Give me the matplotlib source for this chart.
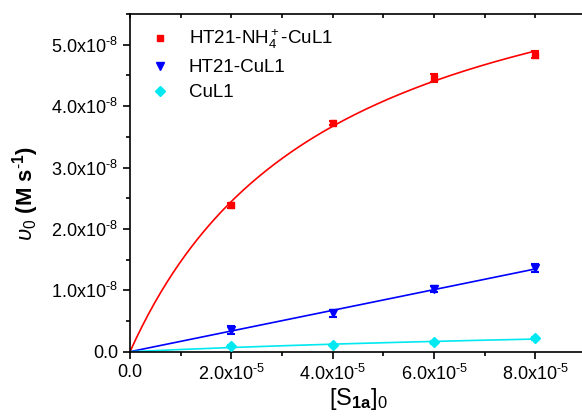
import numpy as np
import matplotlib
matplotlib.use("Agg")
import matplotlib.pyplot as plt
from matplotlib.lines import Line2D
from matplotlib.ticker import MultipleLocator, FuncFormatter, NullFormatter

plt.rcParams['font.family'] = ['Liberation Sans', 'DejaVu Sans']
plt.rcParams['mathtext.fontset'] = 'custom'
plt.rcParams['mathtext.rm'] = 'Liberation Sans'
plt.rcParams['mathtext.it'] = 'Liberation Sans:italic'
plt.rcParams['mathtext.bf'] = 'Liberation Sans:bold'

# Substrate concentration (M)
conc = [2.0e-5, 4.0e-5, 6.0e-5, 8.0e-5]

# Initial rates (M s^-1) and their errors
rate_nh4 = [2.385e-8, 3.73e-8, 4.455e-8, 4.84e-8]
err_nh4 = [0.04e-8, 0.03e-8, 0.06e-8, 0.05e-8]
rate_ht21 = [0.353e-8, 0.624e-8, 1.015e-8, 1.366e-8]
err_ht21 = [0.07e-8, 0.06e-8, 0.05e-8, 0.07e-8]
rate_cul1 = [0.093e-8, 0.109e-8, 0.153e-8, 0.218e-8]
err_cul1 = [0.02e-8, 0.02e-8, 0.02e-8, 0.02e-8]

labels = [r'HT21-NH$_4^+$-CuL1', 'HT21-CuL1', 'CuL1']
colors = ['#ff0000', '#0000ff', '#00e8f0']
markers = ['s', 'v', 'D']
msizes = [4.8, 5.5, 5.5]


def mm_fit(x, y):
    """Least-squares Michaelis-Menten fit v = Vmax*S/(Km+S)."""
    x = np.asarray(x)
    y = np.asarray(y)
    best = None
    for km in np.logspace(-7, -1, 4000):
        f = x / (km + x)
        vmax = np.sum(f * y) / np.sum(f * f)
        sse = np.sum((vmax * f - y) ** 2)
        if best is None or sse < best[0]:
            best = (sse, vmax, km)
    return best[1], best[2]


fig = plt.figure(figsize=(5.82, 4.2), dpi=100)
rect = [130 / 582, 1 - 351.7 / 420, 456 / 582, 337.7 / 420]
ax = fig.add_axes(rect)

s_fit = np.linspace(0, 8.0e-5, 200)
series = [(rate_nh4, err_nh4), (rate_ht21, err_ht21), (rate_cul1, err_cul1)]
for (y, e), c, m, ms in zip(series, colors, markers, msizes):
    vmax, km = mm_fit(conc, y)
    ax.plot(s_fit, vmax * s_fit / (km + s_fit), color=c, lw=1.2, zorder=2)
    ax.errorbar(conc, y, yerr=e, fmt=m, color=c, ms=ms, capsize=3,
                elinewidth=1.5, capthick=1.5, zorder=3, clip_on=False)

ax.set_xlim(0, 9.0e-5)
ax.set_ylim(0, 5.5e-8)

ax.xaxis.set_major_locator(MultipleLocator(2.0e-5))
ax.xaxis.set_minor_locator(MultipleLocator(1.0e-5))
ax.yaxis.set_major_locator(MultipleLocator(1.0e-8))
ax.yaxis.set_minor_locator(MultipleLocator(0.5e-8))


def sci_fmt(exp):
    def f(v, pos):
        if abs(v) < 1e-20:
            return '0.0'
        return r'%.1fx10$^{\text{-}%d}$' % (v / 10 ** exp, -exp)
    return f


ax.xaxis.set_major_formatter(FuncFormatter(sci_fmt(-5)))
ax.yaxis.set_major_formatter(FuncFormatter(sci_fmt(-8)))

for sp in ax.spines.values():
    sp.set_linewidth(1.2)
ax.spines['top'].set_visible(False)
ax.tick_params(which='both', direction='out', width=1.2, labelsize=13,
               top=False, right=False)
ax.tick_params(which='major', length=5)
ax.tick_params(which='minor', length=3)

# top axis with inward ticks, no labels
top = ax.twiny()
top.set_xlim(ax.get_xlim())
top.xaxis.set_major_locator(MultipleLocator(2.0e-5))
top.xaxis.set_minor_locator(MultipleLocator(1.0e-5))
top.xaxis.set_major_formatter(NullFormatter())
top.tick_params(which='both', direction='in', width=1.2, length=3)
for sp in top.spines.values():
    sp.set_linewidth(1.2)
top.spines['bottom'].set_visible(False)
top.spines['left'].set_visible(False)

ax.set_xlabel(r'[S$_{\mathbf{1a}}$]$_0$', fontsize=17, labelpad=2)
ax.set_ylabel(r'$\upsilon_0$ $\mathbf{(M\ s^{\text{-}1})}$', fontsize=16)
ax.yaxis.set_label_coords(-0.195, 0.47)

handles = [Line2D([], [], ls='none', marker=m, color=c, ms=ms)
           for m, c, ms in zip(markers, colors, msizes)]
ax.legend(handles, labels, loc='upper left', bbox_to_anchor=(0.005, 1.01),
          frameon=False, fontsize=13.5, handletextpad=0.9, labelspacing=0.42,
          handlelength=1.2)

fig.savefig('out.png', dpi=100)
